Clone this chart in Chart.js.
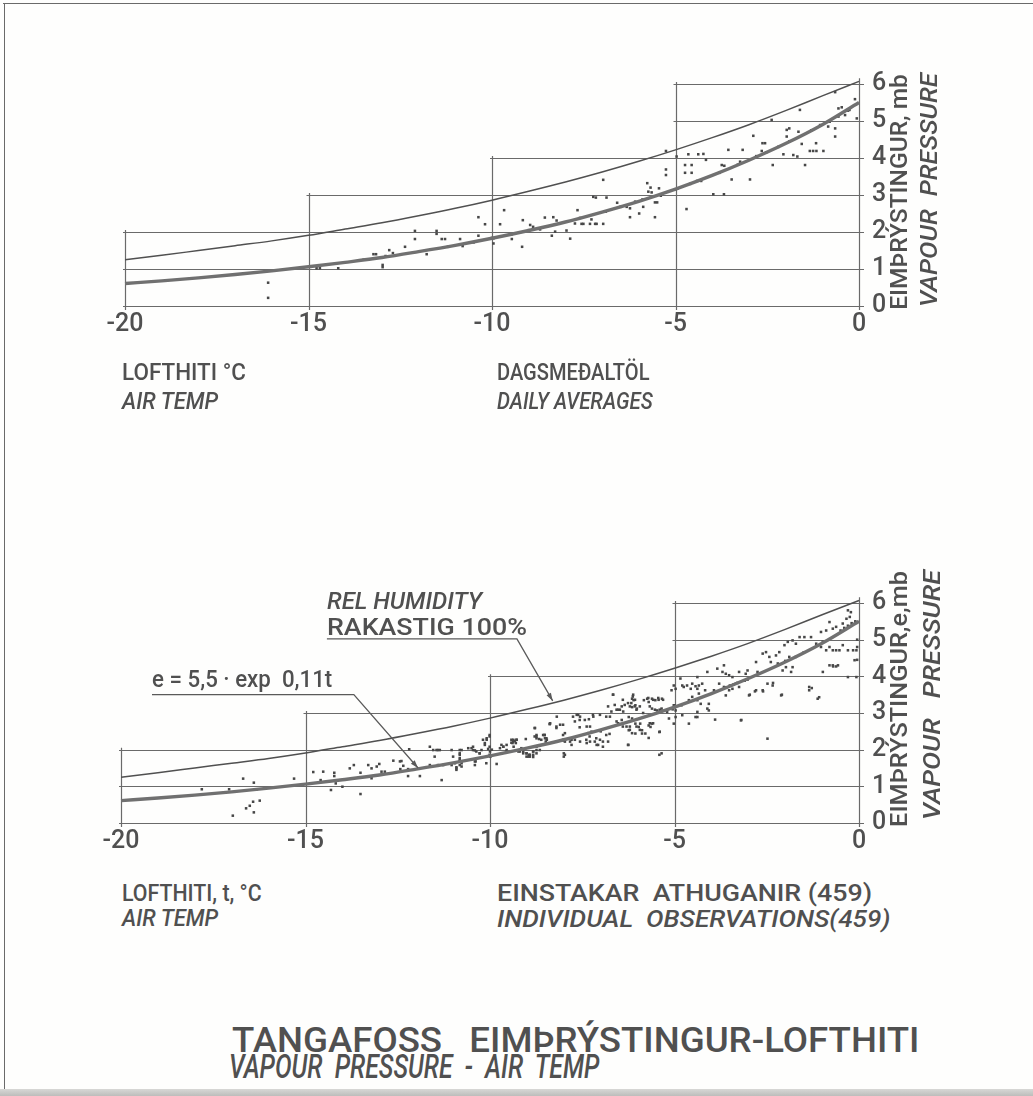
<!DOCTYPE html>
<html>
<head>
<meta charset="utf-8">
<title>Tangafoss – eimþrýstingur og lofthiti</title>
<script src="https://cdn.jsdelivr.net/npm/chart.js@4.4.1/dist/chart.umd.min.js"></script>
<style>
  html, body { margin: 0; padding: 0; background: #fff; }
  #page { position: relative; width: 1033px; height: 1096px; overflow: hidden; background: #fefefd; }
  #page canvas { position: absolute; left: 0; }
  .lbl { position: absolute; white-space: pre; line-height: 1; color: #505050; font-family: Roboto, "DejaVu Sans", sans-serif; font-weight: 500; transform-origin: 0 50%; }
  .frame-top { position: absolute; left: 3px; top: 3px; width: 1030px; height: 0; border-top: 1.5px solid #6a6a6a; }
  .frame-left { position: absolute; left: 4px; top: 3px; width: 0; height: 1090px; border-left: 1.5px solid #6a6a6a; }
  .frame-bottom { position: absolute; left: 0; top: 1089px; width: 1033px; height: 7px; background: linear-gradient(#d8d8d6, #bdbdbb); }
</style>
</head>
<body>
<div id="page">
  <div class="frame-top"></div>
  <div class="frame-left"></div>
  <div class="frame-bottom"></div>
  <canvas id="daily" width="1033" height="360" style="top:0px"></canvas>
  <canvas id="single" width="1033" height="380" style="top:500px"></canvas>
</div>
<script>
// ---- axis ticks ----
const xTickValues = [-20, -15, -10, -5, 0];
const xTickLabels = ['-20', '-15', '-10', '-5', '0'];
const yTickValues = [0, 1, 2, 3, 4, 5, 6];

// ---- stepped grid: each level starts at a given temperature, each column rises to a given pressure ----
const gridLevels = [0, 1, 2, 3, 4, 5, 6];
const gridLevelStart = [-20, -20, -20, -15, -10, -5, -5];
const gridColumns = [-20, -15, -10, -5, 0];
const gridColumnTop = [2, 3, 4, 6, 6.1];

// ---- curves, °C vs mb ----
const curveTemps = [-20, -19, -18, -17, -16, -15, -14, -13, -12, -11, -10, -9, -8, -7, -6, -5, -4, -3, -2, -1, 0];
// saturation vapour pressure (relative humidity 100 %)
const saturationMb = [1.25, 1.37, 1.50, 1.63, 1.76, 1.91, 2.08, 2.25, 2.44, 2.64, 2.86, 3.10, 3.35, 3.62, 3.91, 4.22, 4.55, 4.90, 5.28, 5.68, 6.07];
// fitted curve e = 5,5 · exp 0,11t
const fittedMb = [0.61, 0.68, 0.76, 0.85, 0.95, 1.06, 1.18, 1.31, 1.47, 1.64, 1.83, 2.04, 2.27, 2.54, 2.83, 3.16, 3.53, 3.94, 4.39, 4.90, 5.50];

// ---- daily averages [t °C, e mb] ----
const dailyAverages = [
  [-16.1,0.63],[-16.1,0.22],
  [-14.78,1.02],[-14.69,1.02],[-14.19,1.02],
  [-13.23,1.40],[-13.16,1.40],[-12.98,1.11],[-12.98,1.05],[-12.80,1.51],[-12.70,1.43],[-12.37,1.60],
  [-12.10,2.03],[-12.10,1.81],[-11.78,1.40],[-11.51,2.03],[-11.51,1.95],[-11.37,1.81],[-11.28,1.81],[-10.87,1.81],[-10.80,1.62],
  [-10.37,2.40],[-10.37,1.90],[-10.19,2.21],[-9.96,1.83],[-9.96,1.69],[-9.78,2.21],[-9.67,2.59],[-9.46,1.94],[-9.46,1.81],
  [-9.16,2.32],[-9.18,1.60],[-8.96,2.19],[-8.88,2.14],[-8.69,2.07],[-8.56,2.39],[-8.33,2.40],[-8.24,2.31],[-8.37,1.90],[-8.28,2.01],
  [-7.97,2.04],[-7.87,1.82],[-7.67,2.59],[-7.74,2.23],[-7.56,2.22],
  [-7.51,2.22],[-7.33,2.22],[-7.19,2.22],[-7.15,2.22],[-6.97,2.22],
  [-7.29,2.34],[-7.24,2.95],[-7.17,2.93],[-6.97,3.41],[-6.88,2.93],
  [-6.59,2.79],[-6.33,2.68],[-6.24,2.64],[-6.24,2.40],[-6.10,2.82],[-5.99,2.50],[-5.88,2.68],[-5.77,3.32],[-5.68,3.20],[-5.74,3.09],[-5.65,3.07],
  [-5.56,2.80],[-5.50,2.80],[-5.56,2.40],[-5.45,3.18],[-5.26,3.69],[-5.26,3.54],[-5.26,4.19],[-4.97,4.04],[-4.94,3.18],[-4.70,2.62],
  [-4.74,3.81],[-4.56,3.81],[-4.74,3.60],[-4.56,3.60],[-4.65,4.10],[-4.38,4.10],[-4.24,4.11],[-4.17,3.95],[-4.41,3.38],
  [-3.97,3.02],[-3.68,3.02],[-3.74,3.81],[-3.67,3.79],[-3.56,4.22],[-3.47,3.42],[-3.24,3.90],[-3.17,4.22],[-2.97,3.42],[-2.88,4.60],
  [-2.63,4.40],[-2.56,4.40],[-2.65,4.19],[-2.53,4.15],[-2.38,5.03],[-2.35,3.81],[-2.06,4.10],[-1.97,4.58],[-1.97,4.76],[-1.90,4.80],
  [-1.79,4.08],[-1.68,4.04],[-1.61,5.30],[-1.65,4.71],[-1.56,4.38],[-1.47,3.81],[-1.34,4.19],[-1.25,4.19],[-1.16,4.19],[-1.17,4.40],[-0.97,4.19],
  [-1.06,4.89],[-0.84,4.85],[-0.65,4.58],[-0.65,4.80],[-0.56,5.34],[-0.47,5.37],[-0.56,5.12],[-0.38,5.16],[-0.65,5.78],[-0.11,5.59],[-0.26,5.30],[-0.06,5.07],
  [-13.5,1.25],[-12.9,1.35],[-11.2,1.60],[-10.5,1.72],[-10.0,1.84],[-9.5,1.93],[-9.0,2.05],[-8.5,2.15],[-7.6,2.38],[-6.9,2.55],
  [-6.5,2.68],[-5.9,2.88],[-5.4,2.98],[-5.0,3.15],[-4.6,3.30],[-4.3,3.38],[-3.8,3.60],[-3.3,3.82],[-2.8,4.05],[-2.2,4.30],
  [-1.9,4.45],[-1.3,4.75],[-0.8,4.98],[-0.3,5.28]
];

// ---- individual observations [t °C, e mb] ----
const observations = [
  [-17.81,0.92],[-17.07,0.92],[-16.69,1.21],[-16.40,1.10],[-16.32,0.92],[-16.97,0.20],[-16.61,0.40],[-16.51,0.47],[-16.42,0.58],[-16.24,0.61],[-16.40,0.29],
  [-15.31,1.21],[-14.79,1.39],[-14.52,1.40],[-14.22,1.37],[-14.22,1.28],[-14.59,1.17],[-14.31,0.90],[-14.18,1.08],[-14.00,0.99],
  [-13.80,1.49],[-13.69,1.58],[-13.51,1.37],[-13.51,0.79],[-13.30,1.58],[-13.21,1.49],[-13.07,1.54],[-13.00,1.61],[-13.21,1.22],[-12.94,1.40],[-12.85,1.40],[-12.62,1.70],
  [-12.40,1.69],[-12.43,1.47],[-12.22,1.47],[-12.22,1.28],[-11.90,1.28],[-12.19,2.01],[-11.63,2.08],[-11.54,1.99],[-11.41,1.99],[-11.63,1.58],[-11.50,1.81],[-11.27,1.58],[-11.31,1.17],
  [-11.04,1.99],[-11.00,1.81],[-10.95,1.63],[-10.91,1.49],[-10.82,1.90],[-10.82,1.72],[-10.77,1.63],
  [-10.59,2.04],[-10.46,1.99],[-10.37,1.95],[-10.28,1.90],[-10.41,1.68],[-10.41,1.58],[-10.19,2.27],[-10.09,2.27],[-10.14,2.13],[-10.01,2.40],[-9.99,1.81],[-9.82,1.61],
  [-9.69,2.13],[-9.37,2.22],[-9.28,2.27],[-9.19,1.95],[-9.01,1.90],[-8.92,1.81],[-8.83,1.95],[-8.74,2.08],[-8.61,2.27],[-8.74,2.36],[-8.52,2.40],[-8.38,2.70],[-8.20,2.63],
  [-12.35,1.56],[-12.44,1.68],[-11.45,1.99],[-11.36,1.99],[-11.41,1.58],[-10.82,1.99],[-10.77,1.99],[-10.82,1.86],[-10.82,1.77],[-10.82,1.68],[-11.04,1.58],[-10.91,1.52],[-10.82,1.58],[-10.91,1.45],[-10.77,1.54],
  [-10.50,2.04],[-10.46,2.08],[-10.41,1.98],[-10.39,1.68],[-10.28,1.90],[-10.23,1.99],[-10.09,2.31],[-10.14,2.18],[-10.01,2.36],[-10.01,2.08],[-10.01,1.86],[-10.10,1.63],
  [-9.64,2.08],[-9.55,1.99],[-9.42,2.27],[-9.37,2.27],[-9.28,2.27],[-9.39,2.18],[-9.30,2.18],[-9.36,2.08],[-9.15,2.04],[-9.10,1.95],[-9.01,1.81],[-8.94,1.86],[-8.83,1.86],[-8.74,1.90],
  [-9.03,2.29],[-8.79,2.59],[-8.79,2.36],[-8.74,2.31],[-8.67,2.29],[-8.52,2.40],[-8.47,2.31],[-8.49,2.22],[-8.38,2.70],[-8.20,2.59],[-8.02,2.68],[-8.02,2.40],[-8.02,2.27],[-8.00,1.90],[-8.00,1.81],
  [-7.79,2.27],[-7.79,2.13],[-7.75,2.90],[-7.70,2.77],[-7.61,2.95],[-7.57,2.81],[-7.57,2.61],
  [-7.39,2.27],[-7.30,2.36],[-7.25,2.49],[-7.12,2.31],[-7.07,2.13],[-6.94,2.22],[-6.94,2.08],[-6.80,2.22],[-6.85,2.40],[-6.76,2.43],[-7.32,2.83],[-7.21,2.95],[-6.85,2.90],[-6.71,3.04],
  [-6.67,3.50],[-6.40,3.36],[-6.26,3.27],[-6.57,3.09],[-6.48,3.09],[-6.39,3.04],[-6.53,2.72],[-6.40,2.63],[-6.21,2.63],[-6.21,2.54],[-6.26,2.13],[-6.17,3.27],[-6.08,3.18],[-6.03,3.09],[-6.13,3.45],
  [-9.73,2.04],[-9.64,2.08],[-9.55,2.13],[-9.42,2.19],[-9.33,2.24],
  [-9.23,1.95],[-9.10,1.90],[-9.01,1.90],[-8.92,1.86],[-8.83,1.95],[-8.74,1.99],[-8.65,1.99],[-8.96,1.81],[-8.83,1.80],
  [-8.78,2.59],[-8.74,2.40],[-8.56,2.40],[-8.51,2.31],[-8.46,2.27],
  [-8.37,2.72],[-8.19,2.90],[-8.10,2.68],[-7.97,2.45],[-7.97,1.86],[-7.97,2.22],
  [-7.83,2.22],[-7.70,2.27],[-7.56,2.22],[-7.38,2.18],[-7.29,2.22],[-7.16,2.22],[-7.11,2.13],[-7.02,2.27],
  [-7.65,2.95],[-7.56,2.90],[-7.43,2.81],[-7.20,2.90],[-7.38,2.63],[-7.29,2.63],[-7.34,2.45],
  [-7.02,2.95],[-6.75,2.90],[-6.57,2.77],[-6.43,2.81],[-6.30,2.63],[-6.25,2.13],
  [-6.80,3.18],[-6.62,3.22],[-6.53,3.09],[-6.43,3.18],
  [-6.66,3.50],[-6.35,3.22],[-6.21,3.18],[-6.12,3.50],[-6.07,3.36],[-5.94,3.18],[-5.85,3.00],
  [-6.03,2.63],[-5.94,2.54],[-5.67,2.72],[-5.58,2.72],[-5.40,2.49],[-5.35,1.90],
  [-5.71,3.41],[-5.58,3.36],[-5.44,3.41],[-5.31,3.36],[-5.67,3.18],[-5.53,3.09],[-5.40,3.09],
  [-6.15,3.39],[-6.11,3.35],[-6.15,3.16],[-6.06,3.21],[-6.02,3.12],
  [-5.83,3.35],[-5.74,3.39],[-5.70,3.30],[-5.61,3.39],[-5.52,3.35],[-5.43,3.36],[-5.34,3.39],
  [-5.61,3.12],[-5.47,3.07],[-5.35,3.12],
  [-6.24,2.89],[-6.15,2.85],[-6.06,2.71],[-5.97,2.62],[-5.88,2.53],[-5.79,2.44],
  [-5.93,2.71],[-5.88,2.44],[-5.70,2.66],[-5.65,2.62],[-5.61,2.71],
  [-5.70,2.32],[-5.41,2.48],[-5.41,1.86],
  [-6.24,2.53],[-6.15,2.45],[-6.06,2.44],
  [-5.20,3.03],[-5.15,2.85],
  [-5.02,3.75],[-4.97,3.66],[-5.08,3.62],[-5.02,3.21],[-4.97,3.07],[-4.97,2.89],[-5.02,2.71],
  [-4.84,3.94],[-4.79,3.75],[-4.81,3.21],[-4.79,2.94],
  [-4.75,3.71],[-4.66,3.75],[-4.56,3.66],[-4.52,3.80],[-4.43,3.73],[-4.38,3.66],[-4.34,3.75],[-4.25,3.80],[-4.17,3.62],
  [-4.61,3.35],[-4.52,3.44],[-4.38,3.35],[-4.34,3.53],[-4.29,3.25],
  [-4.61,2.71],[-4.43,2.89],[-4.38,3.03],[-4.38,2.89],
  [-4.11,3.12],[-4.07,3.07],[-3.90,2.82],[-4.07,3.25],
  [-4.38,3.98],[-4.11,4.12],[-3.84,4.21],[-3.66,4.30],[-3.70,4.12],[-3.61,4.07],
  [-3.93,3.62],[-3.79,3.80],[-3.66,3.71],[-3.52,3.62],[-3.43,3.66],[-3.25,3.71],[-3.11,3.89],[-3.02,3.91],[-3.34,3.80],
  [-3.52,4.03],[-3.43,3.98],[-3.25,4.12],[-3.07,4.07],[-3.02,4.16],
  [-3.61,3.48],[-3.20,2.80],[-2.98,3.48],[-2.79,3.62],[-2.61,3.62],[-2.48,3.80],
  [-2.79,4.39],[-2.75,4.12],[-2.61,4.62],[-2.52,4.66],[-2.43,4.53],[-2.39,4.39],[-2.25,4.57],
  [-2.48,2.30],[-2.34,3.75],[-2.11,3.48],
  [-2.16,4.66],[-2.02,4.85],[-1.93,4.94],[-1.80,4.98],[-1.71,4.89],[-1.89,4.53],[-1.80,4.25],[-1.71,4.53],
  [-2.07,4.16],[-1.98,4.25],[-1.84,4.12],
  [-1.61,5.07],[-1.48,5.07],[-1.30,5.07],
  [-1.35,3.71],[-1.35,3.62],[-1.12,3.39],
  [-1.16,4.89],[-1.03,4.80],[-0.98,4.94],[-0.89,4.71],[-0.80,4.80],[-0.71,4.71],[-0.62,4.71],[-0.53,4.71],
  [-1.03,5.21],[-0.89,5.25],[-0.71,5.30],[-0.62,5.35],[-0.80,5.48],
  [-0.98,4.12],[-0.80,4.30],[-0.71,4.30],[-0.57,4.30],
  [-0.44,5.44],[-0.34,5.57],[-0.25,5.62],[-0.22,5.75],[-0.30,5.80],
  [-0.44,4.85],[-0.30,4.71],[-0.16,4.71],[-0.07,4.71],[-0.12,4.44],
  [-0.30,3.98],[-0.07,3.98],
  [-1.28,3.68],[-1.08,3.43],[-2.09,3.50],[-2.96,3.50],[-2.82,3.59],[-2.60,3.59],[-2.33,3.82],[-3.19,2.81],[-0.05,4.45],[-0.70,4.27],[-0.62,4.27],
  [-10.0,1.95],[-9.95,2.00],[-10.05,2.02],[-3.6,3.70],[-3.5,3.75],[-3.4,3.78],[-3.3,3.82],[-3.1,3.88],[-2.2,4.35],[-2.0,4.42],
  [-1.5,4.65],[-0.5,5.25],[-0.4,5.32],[-0.3,5.38],[-0.2,5.45],[-0.1,5.50],[-5.0,3.20],[-5.05,3.10],[-7.0,2.50],[-8.0,2.25],
  [-0.05,5.00],[-0.05,4.80]
];

// ---- callout leaders for the lower panel, in °C / mb ----
const humidityLeader = [[-14.42, 5.02], [-9.27, 5.02], [-8.30, 3.33]];
const formulaLeader  = [[-19.16, 3.50], [-13.69, 3.50], [-11.95, 1.50]];

const INK = '#505050';
const FONT = 'Roboto, "DejaVu Sans", sans-serif';

// stepped grid drawn under the data
const steppedGrid = {
  id: 'steppedGrid',
  beforeDatasetsDraw(chart) {
    const { ctx, scales: { x, y } } = chart;
    ctx.save();
    ctx.strokeStyle = '#6a6a6a';
    ctx.lineWidth = 1.2;
    ctx.beginPath();
    gridLevels.forEach((lv, i) => {
      const py = Math.round(y.getPixelForValue(lv)) + 0.5;
      ctx.moveTo(x.getPixelForValue(gridLevelStart[i]) - 2, py);
      ctx.lineTo(x.getPixelForValue(0) + 5, py);
    });
    gridColumns.forEach((c, i) => {
      const px = Math.round(x.getPixelForValue(c)) + 0.5;
      ctx.moveTo(px, y.getPixelForValue(0) + 4);
      ctx.lineTo(px, y.getPixelForValue(gridColumnTop[i]) - 2);
    });
    ctx.stroke();
    ctx.restore();
  }
};

// leader lines from the callout texts to the curves
const leaders = {
  id: 'leaders',
  afterDatasetsDraw(chart, args, opts) {
    if (!opts.lines) return;
    const { ctx, scales: { x, y } } = chart;
    ctx.save();
    ctx.strokeStyle = '#5a5a5a';
    ctx.fillStyle = '#5a5a5a';
    ctx.lineWidth = 1.3;
    opts.lines.forEach(line => {
      const pts = line.map(([t, e]) => [x.getPixelForValue(t), y.getPixelForValue(e)]);
      ctx.beginPath();
      pts.forEach(([px, py], i) => i ? ctx.lineTo(px, py) : ctx.moveTo(px, py));
      ctx.stroke();
      const [ax, ay] = pts[pts.length - 2];
      const [bx, by] = pts[pts.length - 1];
      const ang = Math.atan2(by - ay, bx - ax);
      ctx.beginPath();
      ctx.moveTo(bx, by);
      ctx.lineTo(bx - 8 * Math.cos(ang) + 2.5 * Math.sin(ang), by - 8 * Math.sin(ang) - 2.5 * Math.cos(ang));
      ctx.lineTo(bx - 8 * Math.cos(ang) - 2.5 * Math.sin(ang), by - 8 * Math.sin(ang) + 2.5 * Math.cos(ang));
      ctx.closePath();
      ctx.fill();
    });
    ctx.restore();
  }
};

function panel(canvasId, points, pad, xAxisHeight, leaderLines) {
  return new Chart(document.getElementById(canvasId), {
    data: {
      datasets: [
        {
          type: 'line',
          data: curveTemps.map((t, i) => ({ x: t, y: saturationMb[i] })),
          borderColor: '#505050', borderWidth: 1.5, pointRadius: 0,
          cubicInterpolationMode: 'monotone', order: 0, clip: 6
        },
        {
          type: 'line',
          data: curveTemps.map((t, i) => ({ x: t, y: fittedMb[i] })),
          borderColor: '#707070', borderWidth: 3.4, pointRadius: 0,
          cubicInterpolationMode: 'monotone', order: 0, clip: 6
        },
        {
          type: 'scatter',
          data: points.map(([t, e]) => ({ x: t, y: e })),
          pointStyle: 'rect', pointRadius: 1.8, borderWidth: 0,
          backgroundColor: '#474747', order: 1, clip: 6
        }
      ]
    },
    options: {
      responsive: false, animation: false, devicePixelRatio: 1,
      layout: { padding: pad },
      plugins: { legend: { display: false }, tooltip: { enabled: false }, leaders: { lines: leaderLines } },
      scales: {
        x: {
          type: 'linear', position: 'bottom', min: -20, max: 0,
          grid: { display: false, drawTicks: false }, border: { display: false },
          afterBuildTicks: s => { s.ticks = xTickValues.map(v => ({ value: v })); },
          afterFit: s => { s.height = xAxisHeight; },
          ticks: {
            padding: 4, color: INK, font: { family: FONT, size: 25, weight: '500' },
            callback: v => xTickLabels[xTickValues.indexOf(v)]
          }
        },
        y: {
          type: 'linear', position: 'right', min: 0, max: 6,
          grid: { display: false, drawTicks: false }, border: { display: false },
          afterBuildTicks: s => { s.ticks = yTickValues.map(v => ({ value: v })); },
          afterFit: s => { s.width = 174; },
          ticks: { padding: 13, color: INK, font: { family: FONT, size: 25, weight: '500' }, callback: v => String(v) }
        }
      }
    },
    plugins: [steppedGrid, leaders]
  });
}

panel('daily', dailyAverages, { left: 125, top: 84, right: 0, bottom: 0 }, 54, null);
panel('single', observations, { left: 121, top: 103, right: 0, bottom: 0 }, 57, [humidityLeader, formulaLeader]);

// ---- text ----
const page = document.getElementById('page');
function label(text, x, cy, width, size, italic) {
  const d = document.createElement('div');
  d.className = 'lbl';
  d.textContent = text;
  d.style.fontSize = size + 'px';
  if (italic) d.style.fontStyle = 'italic';
  page.appendChild(d);
  const nat = d.offsetWidth;
  d.style.left = x + 'px';
  d.style.top = (cy - size / 2) + 'px';
  d.style.transform = 'scaleX(' + (width / nat).toFixed(3) + ')';
}
function vlabel(text, cx, cy, len, size, italic) {
  const d = document.createElement('div');
  d.className = 'lbl';
  d.textContent = text;
  d.style.fontSize = size + 'px';
  d.style.transformOrigin = '50% 50%';
  if (italic) d.style.fontStyle = 'italic';
  page.appendChild(d);
  const nat = d.offsetWidth;
  d.style.left = (cx - nat / 2) + 'px';
  d.style.top = (cy - size / 2) + 'px';
  d.style.transform = 'rotate(-90deg) scaleX(' + (len / nat).toFixed(3) + ')';
}

// upper panel
vlabel('EIMÞRÝSTINGUR, mb', 899, 192, 236, 24, false);
vlabel('VAPOUR  PRESSURE', 929, 190, 234, 24, true);
label('LOFTHITI °C', 122, 372, 124, 23, false);
label('AIR TEMP', 122, 401, 96, 23, true);
label('DAGSMEÐALTÖL', 497, 372, 153, 23, false);
label('DAILY AVERAGES', 497, 401, 156, 23, true);

// lower panel
vlabel('EIMÞRÝSTINGUR,e,mb', 899, 699, 256, 24, false);
vlabel('VAPOUR   PRESSURE', 932, 695, 250, 24, true);
label('REL HUMIDITY', 327, 601, 155, 24, true);
label('RAKASTIG 100%', 327, 627, 200, 24, false);
label('e = 5,5 · exp  0,11t', 152, 679, 180, 23, false);
label('LOFTHITI, t, °C', 122, 893, 140, 23, false);
label('AIR TEMP', 122, 918, 96, 23, true);
label('EINSTAKAR  ATHUGANIR (459)', 497, 893, 375, 23, false);
label('INDIVIDUAL  OBSERVATIONS(459)', 497, 919, 393, 23, true);

// title
label('TANGAFOSS   EIMÞRÝSTINGUR-LOFTHITI', 232, 1040, 688, 35, false);
label('VAPOUR  PRESSURE  -  AIR  TEMP', 229, 1066, 370, 34, true);
</script>
</body>
</html>
